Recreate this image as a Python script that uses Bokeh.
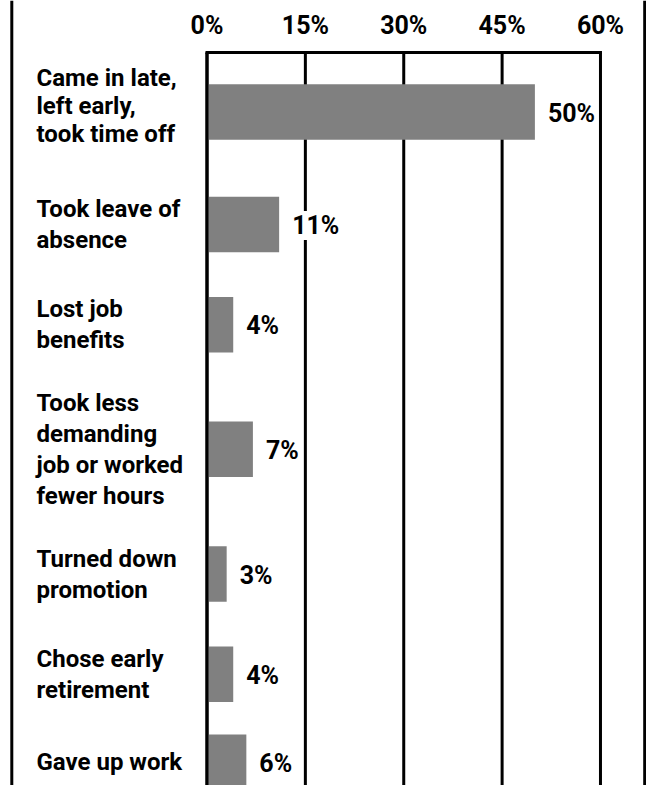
from bokeh.plotting import figure
from bokeh.models import ColumnDataSource, LabelSet, Range1d, Span, CDSView, IndexFilter
from bokeh.core.properties import value
from bokeh.embed import file_html
from bokeh.resources import INLINE

# ---- data ----
categories = [
    "Came in late,\nleft early,\ntook time off",
    "Took leave of\nabsence",
    "Lost job\nbenefits",
    "Took less\ndemanding\njob or worked\nfewer hours",
    "Turned down\npromotion",
    "Chose early\nretirement",
    "Gave up work",
]
values = [50, 11, 4, 7, 3, 4, 6]
value_labels = ["50%", "11%", "4%", "7%", "3%", "4%", "6%"]
tick_values = [0, 15, 30, 45, 60]
tick_labels = ["0%", "15%", "30%", "45%", "60%"]

FONT = "Roboto"

# ---- layout: y in screen pixels (top = 0), x in percent ----
W, H = 646, 785
PX_PER_PCT = 6.558
ZERO_PX = 206.5
FIRST_ROW_PX = 111.5
ROW_GAP_PX = 51.2       # gap between rows
ROW_LINE_PX = 24.5      # extra row spacing per label line
BAR_PX = 55.5


def xdata(px):
    return (px - ZERO_PX) / PX_PER_PCT


# row centres follow from the number of lines in each label
n_lines = [c.count("\n") + 1 for c in categories]
positions = [FIRST_ROW_PX]
for i in range(1, len(categories)):
    positions.append(positions[-1] + ROW_GAP_PX + ROW_LINE_PX * (n_lines[i - 1] + n_lines[i]) / 2)

src = ColumnDataSource(dict(pos=positions, value=values, cat=categories, vlabel=value_labels))

top_y = 52
bottom_y = H + 10
tick_src = ColumnDataSource(dict(x=tick_values, lab=tick_labels,
                                 y0=[top_y] * len(tick_values),
                                 y1=[bottom_y] * len(tick_values),
                                 ly=[25] * len(tick_values)))

p = figure(width=W, height=H, output_backend="svg", toolbar_location=None,
           x_range=Range1d(xdata(0), xdata(W)), y_range=Range1d(H, 0),
           x_axis_location=None, y_axis_location=None,
           min_border=0, min_border_left=0, min_border_right=0,
           min_border_top=0, min_border_bottom=0)
p.outline_line_color = None
p.xgrid.visible = False
p.ygrid.visible = False

# page edge rules
p.add_layout(Span(location=11.3, location_units="screen", dimension="height",
                  line_width=3, line_color="black"))
p.add_layout(Span(location=644.2, location_units="screen", dimension="height",
                  line_width=3, line_color="black"))

# grid lines
p.segment(x0="x", x1="x", y0="y0", y1="y1", line_width=3, line_color="black",
          source=tick_src)
# top rule
p.segment(x0=tick_values[0], x1=tick_values[-1], y0=top_y, y1=top_y,
          line_width=3, line_color="black", line_cap="square")

# tick labels
p.text(x="x", y="ly", text="lab", text_align="center", text_baseline="middle",
       text_font=value(FONT), text_font_size="25px", text_font_style="bold",
       text_color="black", source=tick_src)

# bars
p.hbar(y="pos", left=0, right="value", height=BAR_PX, fill_color="#808080",
       line_color=None, source=src)

# zero line on top of bars
p.segment(x0=tick_values[0], x1=tick_values[0], y0=top_y, y1=bottom_y,
          line_width=3, line_color="black")

# category labels (first label is set with tighter leading)
text_kw = dict(x=xdata(36), y="pos", text="cat", text_align="left",
               text_baseline="middle", text_font=value(FONT),
               text_font_size="24px", text_font_style="bold",
               text_color="black", source=src)
p.text(view=CDSView(filter=IndexFilter([0])), text_line_height=1.0,
       y_offset=-6, **text_kw)
p.text(view=CDSView(filter=IndexFilter(list(range(1, len(categories))))),
       text_line_height=1.11, **text_kw)

# value labels
vl = LabelSet(x="value", y="pos", text="vlabel", x_offset=13, y_offset=-1,
              text_align="left", text_baseline="middle",
              background_fill_color="white",
              text_font=value(FONT), text_font_size="25px", text_font_style="bold",
              text_color="black", source=src)
p.add_layout(vl)

open("out.html", "w").write(file_html(p, INLINE))
